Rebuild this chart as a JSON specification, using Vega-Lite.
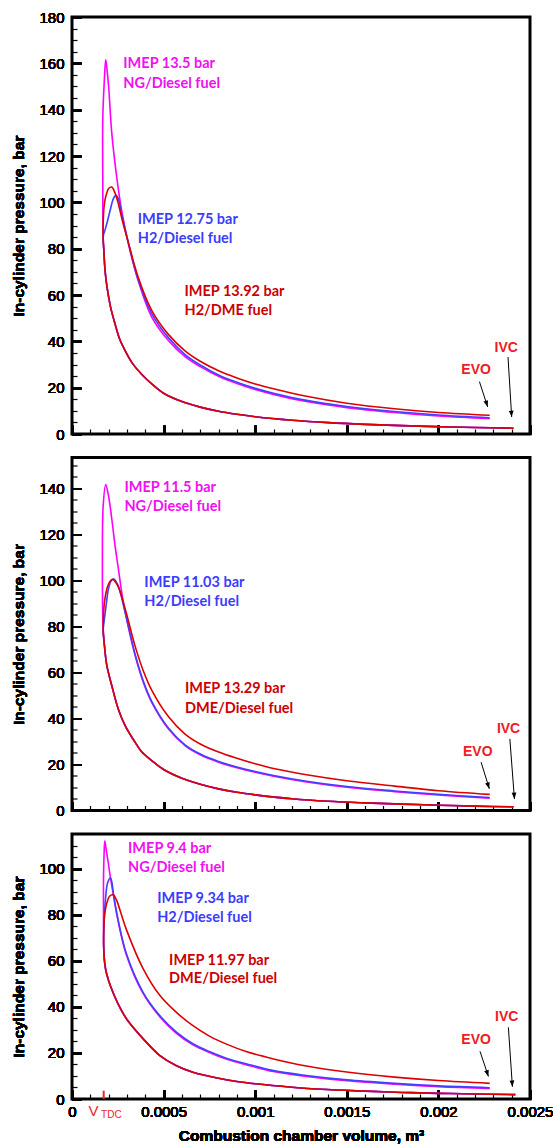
{
"$schema": "https://vega.github.io/schema/vega-lite/v6.json",
"padding": {"left": 10, "top": 8, "right": 2, "bottom": 2},
"background": "white",
"spacing": 23.5,
"bounds": "flush",
"config": {
  "view": {"stroke": "black", "strokeWidth": 3},
  "line": {"interpolate": "catmull-rom", "strokeWidth": 1.6},
  "axis": {"domain": false, "grid": false, "ticks": true, "tickColor": "black", "labelColor": "black", "titleColor": "black", "labelFont": "Liberation Sans", "labelFontSize": 15, "titleFont": "Liberation Sans", "titleFontSize": 15.5, "titleFontWeight": "bold", "labelOverlap": false, "labelFlush": false}
},
"datasets": {
"curves": [
{"k":1,"f":"NG","i":0,"v":0.00241,"p":2.5},{"k":1,"f":"NG","i":1,"v":0.0022,"p":2.8},{"k":1,"f":"NG","i":2,"v":0.002,"p":3.15},{"k":1,"f":"NG","i":3,"v":0.0018,"p":3.6},{"k":1,"f":"NG","i":4,"v":0.0016,"p":4.16},{"k":1,"f":"NG","i":5,"v":0.0014,"p":4.9},{"k":1,"f":"NG","i":6,"v":0.0012,"p":5.95},{"k":1,"f":"NG","i":7,"v":0.001,"p":7.45},{"k":1,"f":"NG","i":8,"v":0.0009,"p":8.5},{"k":1,"f":"NG","i":9,"v":0.0008,"p":9.8},{"k":1,"f":"NG","i":10,"v":0.0007,"p":11.6},{"k":1,"f":"NG","i":11,"v":0.0006,"p":14},{"k":1,"f":"NG","i":12,"v":0.0005,"p":17.6},{"k":1,"f":"NG","i":13,"v":0.00044,"p":21.3},{"k":1,"f":"NG","i":14,"v":0.00038,"p":25.8},{"k":1,"f":"NG","i":15,"v":0.00033,"p":30.5},{"k":1,"f":"NG","i":16,"v":0.00029,"p":36},{"k":1,"f":"NG","i":17,"v":0.00026,"p":41},{"k":1,"f":"NG","i":18,"v":0.000235,"p":47.5},{"k":1,"f":"NG","i":19,"v":0.00021,"p":55},{"k":1,"f":"NG","i":20,"v":0.00019,"p":64},{"k":1,"f":"NG","i":21,"v":0.00018,"p":71},{"k":1,"f":"NG","i":22,"v":0.000174,"p":79},{"k":1,"f":"NG","i":23,"v":0.00017,"p":85},
{"k":1,"f":"NG","i":24,"v":0.000168,"p":110},{"k":1,"f":"NG","i":25,"v":0.000168,"p":136},{"k":1,"f":"NG","i":26,"v":0.000176,"p":152},{"k":1,"f":"NG","i":27,"v":0.000184,"p":161.5},{"k":1,"f":"NG","i":28,"v":0.00019,"p":158},{"k":1,"f":"NG","i":29,"v":0.0002,"p":150},{"k":1,"f":"NG","i":30,"v":0.000217,"p":130},{"k":1,"f":"NG","i":31,"v":0.000244,"p":111},{"k":1,"f":"NG","i":32,"v":0.000271,"p":96.5},{"k":1,"f":"NG","i":33,"v":0.000308,"p":82},{"k":1,"f":"NG","i":34,"v":0.00036,"p":66.5},{"k":1,"f":"NG","i":35,"v":0.000435,"p":50.5},{"k":1,"f":"NG","i":36,"v":0.000526,"p":40.4},{"k":1,"f":"NG","i":37,"v":0.000617,"p":33.4},{"k":1,"f":"NG","i":38,"v":0.0007,"p":29.1},{"k":1,"f":"NG","i":39,"v":0.0008,"p":24.9},{"k":1,"f":"NG","i":40,"v":0.0009,"p":21.8},{"k":1,"f":"NG","i":41,"v":0.001,"p":19.2},{"k":1,"f":"NG","i":42,"v":0.0011,"p":17.1},{"k":1,"f":"NG","i":43,"v":0.00128,"p":14},{"k":1,"f":"NG","i":44,"v":0.0015,"p":11.4},{"k":1,"f":"NG","i":45,"v":0.00176,"p":9.3},{"k":1,"f":"NG","i":46,"v":0.002,"p":7.8},{"k":1,"f":"NG","i":47,"v":0.00228,"p":6.6},
{"k":1,"f":"H2","i":0,"v":0.00241,"p":2.5},{"k":1,"f":"H2","i":1,"v":0.0022,"p":2.8},{"k":1,"f":"H2","i":2,"v":0.002,"p":3.15},{"k":1,"f":"H2","i":3,"v":0.0018,"p":3.6},{"k":1,"f":"H2","i":4,"v":0.0016,"p":4.16},{"k":1,"f":"H2","i":5,"v":0.0014,"p":4.9},{"k":1,"f":"H2","i":6,"v":0.0012,"p":5.95},{"k":1,"f":"H2","i":7,"v":0.001,"p":7.45},{"k":1,"f":"H2","i":8,"v":0.0009,"p":8.5},{"k":1,"f":"H2","i":9,"v":0.0008,"p":9.8},{"k":1,"f":"H2","i":10,"v":0.0007,"p":11.6},{"k":1,"f":"H2","i":11,"v":0.0006,"p":14},{"k":1,"f":"H2","i":12,"v":0.0005,"p":17.6},{"k":1,"f":"H2","i":13,"v":0.00044,"p":21.3},{"k":1,"f":"H2","i":14,"v":0.00038,"p":25.8},{"k":1,"f":"H2","i":15,"v":0.00033,"p":30.5},{"k":1,"f":"H2","i":16,"v":0.00029,"p":36},{"k":1,"f":"H2","i":17,"v":0.00026,"p":41},{"k":1,"f":"H2","i":18,"v":0.000235,"p":47.5},{"k":1,"f":"H2","i":19,"v":0.00021,"p":55},{"k":1,"f":"H2","i":20,"v":0.00019,"p":64},{"k":1,"f":"H2","i":21,"v":0.00018,"p":71},{"k":1,"f":"H2","i":22,"v":0.000174,"p":79},{"k":1,"f":"H2","i":23,"v":0.00017,"p":84},
{"k":1,"f":"H2","i":24,"v":0.000172,"p":86},{"k":1,"f":"H2","i":25,"v":0.00018,"p":88},{"k":1,"f":"H2","i":26,"v":0.00019,"p":90.8},{"k":1,"f":"H2","i":27,"v":0.000208,"p":96.5},{"k":1,"f":"H2","i":28,"v":0.000226,"p":101.6},{"k":1,"f":"H2","i":29,"v":0.000239,"p":103},{"k":1,"f":"H2","i":30,"v":0.000253,"p":101.5},{"k":1,"f":"H2","i":31,"v":0.000271,"p":95},{"k":1,"f":"H2","i":32,"v":0.000308,"p":82.5},{"k":1,"f":"H2","i":33,"v":0.00036,"p":67},{"k":1,"f":"H2","i":34,"v":0.000435,"p":52},{"k":1,"f":"H2","i":35,"v":0.000526,"p":41.6},{"k":1,"f":"H2","i":36,"v":0.000617,"p":34.3},{"k":1,"f":"H2","i":37,"v":0.0007,"p":29.8},{"k":1,"f":"H2","i":38,"v":0.0008,"p":25.5},{"k":1,"f":"H2","i":39,"v":0.0009,"p":22.3},{"k":1,"f":"H2","i":40,"v":0.001,"p":19.7},{"k":1,"f":"H2","i":41,"v":0.0011,"p":17.6},{"k":1,"f":"H2","i":42,"v":0.00128,"p":14.5},{"k":1,"f":"H2","i":43,"v":0.0015,"p":11.9},{"k":1,"f":"H2","i":44,"v":0.00176,"p":9.7},{"k":1,"f":"H2","i":45,"v":0.002,"p":8.2},{"k":1,"f":"H2","i":46,"v":0.00228,"p":7.0},
{"k":1,"f":"DME","i":0,"v":0.00241,"p":2.5},{"k":1,"f":"DME","i":1,"v":0.0022,"p":2.8},{"k":1,"f":"DME","i":2,"v":0.002,"p":3.15},{"k":1,"f":"DME","i":3,"v":0.0018,"p":3.6},{"k":1,"f":"DME","i":4,"v":0.0016,"p":4.16},{"k":1,"f":"DME","i":5,"v":0.0014,"p":4.9},{"k":1,"f":"DME","i":6,"v":0.0012,"p":5.95},{"k":1,"f":"DME","i":7,"v":0.001,"p":7.45},{"k":1,"f":"DME","i":8,"v":0.0009,"p":8.5},{"k":1,"f":"DME","i":9,"v":0.0008,"p":9.8},{"k":1,"f":"DME","i":10,"v":0.0007,"p":11.6},{"k":1,"f":"DME","i":11,"v":0.0006,"p":14},{"k":1,"f":"DME","i":12,"v":0.0005,"p":17.6},{"k":1,"f":"DME","i":13,"v":0.00044,"p":21.3},{"k":1,"f":"DME","i":14,"v":0.00038,"p":25.8},{"k":1,"f":"DME","i":15,"v":0.00033,"p":30.5},{"k":1,"f":"DME","i":16,"v":0.00029,"p":36},{"k":1,"f":"DME","i":17,"v":0.00026,"p":41},{"k":1,"f":"DME","i":18,"v":0.000235,"p":47.5},{"k":1,"f":"DME","i":19,"v":0.00021,"p":55},{"k":1,"f":"DME","i":20,"v":0.00019,"p":64},{"k":1,"f":"DME","i":21,"v":0.00018,"p":71},{"k":1,"f":"DME","i":22,"v":0.000174,"p":79},{"k":1,"f":"DME","i":23,"v":0.00017,"p":85},
{"k":1,"f":"DME","i":24,"v":0.000172,"p":95},{"k":1,"f":"DME","i":25,"v":0.000178,"p":100},{"k":1,"f":"DME","i":26,"v":0.000186,"p":103},{"k":1,"f":"DME","i":27,"v":0.0002,"p":106},{"k":1,"f":"DME","i":28,"v":0.000217,"p":106.6},{"k":1,"f":"DME","i":29,"v":0.000235,"p":104},{"k":1,"f":"DME","i":30,"v":0.000253,"p":99.4},{"k":1,"f":"DME","i":31,"v":0.000275,"p":92},{"k":1,"f":"DME","i":32,"v":0.000308,"p":82.5},{"k":1,"f":"DME","i":33,"v":0.00036,"p":68},{"k":1,"f":"DME","i":34,"v":0.000435,"p":53.4},{"k":1,"f":"DME","i":35,"v":0.000526,"p":43},{"k":1,"f":"DME","i":36,"v":0.000617,"p":35.9},{"k":1,"f":"DME","i":37,"v":0.0007,"p":31.4},{"k":1,"f":"DME","i":38,"v":0.0008,"p":27.3},{"k":1,"f":"DME","i":39,"v":0.0009,"p":24.2},{"k":1,"f":"DME","i":40,"v":0.001,"p":21.6},{"k":1,"f":"DME","i":41,"v":0.0011,"p":19.5},{"k":1,"f":"DME","i":42,"v":0.00128,"p":16.3},{"k":1,"f":"DME","i":43,"v":0.0015,"p":13.3},{"k":1,"f":"DME","i":44,"v":0.00176,"p":10.9},{"k":1,"f":"DME","i":45,"v":0.002,"p":9.3},{"k":1,"f":"DME","i":46,"v":0.00228,"p":8.1},
{"k":2,"f":"NG","i":0,"v":0.00241,"p":1.6},{"k":2,"f":"NG","i":1,"v":0.0022,"p":1.9},{"k":2,"f":"NG","i":2,"v":0.002,"p":2.3},{"k":2,"f":"NG","i":3,"v":0.0018,"p":2.75},{"k":2,"f":"NG","i":4,"v":0.0016,"p":3.3},{"k":2,"f":"NG","i":5,"v":0.0014,"p":4.0},{"k":2,"f":"NG","i":6,"v":0.0012,"p":5.1},{"k":2,"f":"NG","i":7,"v":0.001,"p":6.8},{"k":2,"f":"NG","i":8,"v":0.0009,"p":7.9},{"k":2,"f":"NG","i":9,"v":0.0008,"p":9.4},{"k":2,"f":"NG","i":10,"v":0.0007,"p":11.4},{"k":2,"f":"NG","i":11,"v":0.0006,"p":14},{"k":2,"f":"NG","i":12,"v":0.0005,"p":17.8},{"k":2,"f":"NG","i":13,"v":0.000435,"p":21.7},{"k":2,"f":"NG","i":14,"v":0.00038,"p":25.5},{"k":2,"f":"NG","i":15,"v":0.000344,"p":29.7},{"k":2,"f":"NG","i":16,"v":0.00029,"p":36.9},{"k":2,"f":"NG","i":17,"v":0.000253,"p":44},{"k":2,"f":"NG","i":18,"v":0.000217,"p":54.3},{"k":2,"f":"NG","i":19,"v":0.00019,"p":63},{"k":2,"f":"NG","i":20,"v":0.000177,"p":71.7},{"k":2,"f":"NG","i":21,"v":0.00017,"p":79},
{"k":2,"f":"NG","i":22,"v":0.000166,"p":110},{"k":2,"f":"NG","i":23,"v":0.00017,"p":132},{"k":2,"f":"NG","i":24,"v":0.000184,"p":141.6},{"k":2,"f":"NG","i":25,"v":0.000199,"p":136.8},{"k":2,"f":"NG","i":26,"v":0.000217,"p":126.7},{"k":2,"f":"NG","i":27,"v":0.000235,"p":115},{"k":2,"f":"NG","i":28,"v":0.000253,"p":105},{"k":2,"f":"NG","i":29,"v":0.000271,"p":95},{"k":2,"f":"NG","i":30,"v":0.00029,"p":86.3},{"k":2,"f":"NG","i":31,"v":0.000344,"p":67.5},{"k":2,"f":"NG","i":32,"v":0.00039,"p":55.5},{"k":2,"f":"NG","i":33,"v":0.000435,"p":47},{"k":2,"f":"NG","i":34,"v":0.000526,"p":35.5},{"k":2,"f":"NG","i":35,"v":0.000617,"p":28.2},{"k":2,"f":"NG","i":36,"v":0.0007,"p":24.2},{"k":2,"f":"NG","i":37,"v":0.0008,"p":21},{"k":2,"f":"NG","i":38,"v":0.0009,"p":18.6},{"k":2,"f":"NG","i":39,"v":0.001,"p":16.6},{"k":2,"f":"NG","i":40,"v":0.0011,"p":14.9},{"k":2,"f":"NG","i":41,"v":0.00128,"p":12.4},{"k":2,"f":"NG","i":42,"v":0.0015,"p":10.1},{"k":2,"f":"NG","i":43,"v":0.00176,"p":8.2},{"k":2,"f":"NG","i":44,"v":0.002,"p":6.7},{"k":2,"f":"NG","i":45,"v":0.00228,"p":5.3},
{"k":2,"f":"H2","i":0,"v":0.00241,"p":1.6},{"k":2,"f":"H2","i":1,"v":0.0022,"p":1.9},{"k":2,"f":"H2","i":2,"v":0.002,"p":2.3},{"k":2,"f":"H2","i":3,"v":0.0018,"p":2.75},{"k":2,"f":"H2","i":4,"v":0.0016,"p":3.3},{"k":2,"f":"H2","i":5,"v":0.0014,"p":4.0},{"k":2,"f":"H2","i":6,"v":0.0012,"p":5.1},{"k":2,"f":"H2","i":7,"v":0.001,"p":6.8},{"k":2,"f":"H2","i":8,"v":0.0009,"p":7.9},{"k":2,"f":"H2","i":9,"v":0.0008,"p":9.4},{"k":2,"f":"H2","i":10,"v":0.0007,"p":11.4},{"k":2,"f":"H2","i":11,"v":0.0006,"p":14},{"k":2,"f":"H2","i":12,"v":0.0005,"p":17.8},{"k":2,"f":"H2","i":13,"v":0.000435,"p":21.7},{"k":2,"f":"H2","i":14,"v":0.00038,"p":25.5},{"k":2,"f":"H2","i":15,"v":0.000344,"p":29.7},{"k":2,"f":"H2","i":16,"v":0.00029,"p":36.9},{"k":2,"f":"H2","i":17,"v":0.000253,"p":44},{"k":2,"f":"H2","i":18,"v":0.000217,"p":54.3},{"k":2,"f":"H2","i":19,"v":0.00019,"p":63},{"k":2,"f":"H2","i":20,"v":0.000177,"p":71.7},{"k":2,"f":"H2","i":21,"v":0.00017,"p":78},
{"k":2,"f":"H2","i":22,"v":0.000172,"p":80},{"k":2,"f":"H2","i":23,"v":0.000184,"p":87.6},{"k":2,"f":"H2","i":24,"v":0.000199,"p":96.3},{"k":2,"f":"H2","i":25,"v":0.000212,"p":99.5},{"k":2,"f":"H2","i":26,"v":0.000226,"p":100.6},{"k":2,"f":"H2","i":27,"v":0.00025,"p":98},{"k":2,"f":"H2","i":28,"v":0.00029,"p":86},{"k":2,"f":"H2","i":29,"v":0.000344,"p":68},{"k":2,"f":"H2","i":30,"v":0.00039,"p":56},{"k":2,"f":"H2","i":31,"v":0.000435,"p":47.4},{"k":2,"f":"H2","i":32,"v":0.000526,"p":35.8},{"k":2,"f":"H2","i":33,"v":0.000617,"p":28.5},{"k":2,"f":"H2","i":34,"v":0.0007,"p":24.5},{"k":2,"f":"H2","i":35,"v":0.0008,"p":21.3},{"k":2,"f":"H2","i":36,"v":0.0009,"p":18.9},{"k":2,"f":"H2","i":37,"v":0.001,"p":16.9},{"k":2,"f":"H2","i":38,"v":0.0011,"p":15.2},{"k":2,"f":"H2","i":39,"v":0.00128,"p":12.7},{"k":2,"f":"H2","i":40,"v":0.0015,"p":10.4},{"k":2,"f":"H2","i":41,"v":0.00176,"p":8.5},{"k":2,"f":"H2","i":42,"v":0.002,"p":7.0},{"k":2,"f":"H2","i":43,"v":0.00228,"p":5.6},
{"k":2,"f":"DME","i":0,"v":0.00241,"p":1.6},{"k":2,"f":"DME","i":1,"v":0.0022,"p":1.9},{"k":2,"f":"DME","i":2,"v":0.002,"p":2.3},{"k":2,"f":"DME","i":3,"v":0.0018,"p":2.75},{"k":2,"f":"DME","i":4,"v":0.0016,"p":3.3},{"k":2,"f":"DME","i":5,"v":0.0014,"p":4.0},{"k":2,"f":"DME","i":6,"v":0.0012,"p":5.1},{"k":2,"f":"DME","i":7,"v":0.001,"p":6.8},{"k":2,"f":"DME","i":8,"v":0.0009,"p":7.9},{"k":2,"f":"DME","i":9,"v":0.0008,"p":9.4},{"k":2,"f":"DME","i":10,"v":0.0007,"p":11.4},{"k":2,"f":"DME","i":11,"v":0.0006,"p":14},{"k":2,"f":"DME","i":12,"v":0.0005,"p":17.8},{"k":2,"f":"DME","i":13,"v":0.000435,"p":21.7},{"k":2,"f":"DME","i":14,"v":0.00038,"p":25.5},{"k":2,"f":"DME","i":15,"v":0.000344,"p":29.7},{"k":2,"f":"DME","i":16,"v":0.00029,"p":36.9},{"k":2,"f":"DME","i":17,"v":0.000253,"p":44},{"k":2,"f":"DME","i":18,"v":0.000217,"p":54.3},{"k":2,"f":"DME","i":19,"v":0.00019,"p":63},{"k":2,"f":"DME","i":20,"v":0.000177,"p":71.7},{"k":2,"f":"DME","i":21,"v":0.00017,"p":79},
{"k":2,"f":"DME","i":22,"v":0.000172,"p":85},{"k":2,"f":"DME","i":23,"v":0.000178,"p":91},{"k":2,"f":"DME","i":24,"v":0.000195,"p":97.5},{"k":2,"f":"DME","i":25,"v":0.00021,"p":99.8},{"k":2,"f":"DME","i":26,"v":0.000222,"p":100.3},{"k":2,"f":"DME","i":27,"v":0.00025,"p":97.5},{"k":2,"f":"DME","i":28,"v":0.00029,"p":87.6},{"k":2,"f":"DME","i":29,"v":0.000344,"p":71.5},{"k":2,"f":"DME","i":30,"v":0.00039,"p":60.5},{"k":2,"f":"DME","i":31,"v":0.000435,"p":52.3},{"k":2,"f":"DME","i":32,"v":0.000526,"p":40.8},{"k":2,"f":"DME","i":33,"v":0.000617,"p":33.2},{"k":2,"f":"DME","i":34,"v":0.0007,"p":28.9},{"k":2,"f":"DME","i":35,"v":0.0008,"p":25.4},{"k":2,"f":"DME","i":36,"v":0.0009,"p":22.7},{"k":2,"f":"DME","i":37,"v":0.001,"p":20.3},{"k":2,"f":"DME","i":38,"v":0.0011,"p":18.2},{"k":2,"f":"DME","i":39,"v":0.00128,"p":15.5},{"k":2,"f":"DME","i":40,"v":0.0015,"p":12.9},{"k":2,"f":"DME","i":41,"v":0.00176,"p":10.6},{"k":2,"f":"DME","i":42,"v":0.002,"p":8.6},{"k":2,"f":"DME","i":43,"v":0.00228,"p":7.0},
{"k":3,"f":"NG","i":0,"v":0.00242,"p":1.9},{"k":3,"f":"NG","i":1,"v":0.0022,"p":2.2},{"k":3,"f":"NG","i":2,"v":0.002,"p":2.45},{"k":3,"f":"NG","i":3,"v":0.0018,"p":2.85},{"k":3,"f":"NG","i":4,"v":0.0016,"p":3.4},{"k":3,"f":"NG","i":5,"v":0.00136,"p":4.2},{"k":3,"f":"NG","i":6,"v":0.0012,"p":5.1},{"k":3,"f":"NG","i":7,"v":0.001,"p":6.6},{"k":3,"f":"NG","i":8,"v":0.0009,"p":7.6},{"k":3,"f":"NG","i":9,"v":0.0008,"p":9.0},{"k":3,"f":"NG","i":10,"v":0.00066,"p":11.6},{"k":3,"f":"NG","i":11,"v":0.00057,"p":14.4},{"k":3,"f":"NG","i":12,"v":0.00048,"p":18.8},{"k":3,"f":"NG","i":13,"v":0.00039,"p":26},{"k":3,"f":"NG","i":14,"v":0.0003,"p":34.5},{"k":3,"f":"NG","i":15,"v":0.00025,"p":41.5},{"k":3,"f":"NG","i":16,"v":0.00021,"p":49},{"k":3,"f":"NG","i":17,"v":0.00019,"p":54},{"k":3,"f":"NG","i":18,"v":0.00018,"p":58},{"k":3,"f":"NG","i":19,"v":0.000173,"p":66},
{"k":3,"f":"NG","i":20,"v":0.000172,"p":80},{"k":3,"f":"NG","i":21,"v":0.000172,"p":95},{"k":3,"f":"NG","i":22,"v":0.000175,"p":106},{"k":3,"f":"NG","i":23,"v":0.000179,"p":112},{"k":3,"f":"NG","i":24,"v":0.000187,"p":108},{"k":3,"f":"NG","i":25,"v":0.000197,"p":103},{"k":3,"f":"NG","i":26,"v":0.000212,"p":95},{"k":3,"f":"NG","i":27,"v":0.000225,"p":89},{"k":3,"f":"NG","i":28,"v":0.000251,"p":77.5},{"k":3,"f":"NG","i":29,"v":0.000297,"p":62.5},{"k":3,"f":"NG","i":30,"v":0.000388,"p":45.8},{"k":3,"f":"NG","i":31,"v":0.000479,"p":35.7},{"k":3,"f":"NG","i":32,"v":0.00057,"p":28.5},{"k":3,"f":"NG","i":33,"v":0.00066,"p":23.5},{"k":3,"f":"NG","i":34,"v":0.00075,"p":20.2},{"k":3,"f":"NG","i":35,"v":0.00085,"p":17.1},{"k":3,"f":"NG","i":36,"v":0.00095,"p":14.9},{"k":3,"f":"NG","i":37,"v":0.0011,"p":11.9},{"k":3,"f":"NG","i":38,"v":0.00128,"p":9.8},{"k":3,"f":"NG","i":39,"v":0.0015,"p":7.9},{"k":3,"f":"NG","i":40,"v":0.00176,"p":6.4},{"k":3,"f":"NG","i":41,"v":0.002,"p":5.3},{"k":3,"f":"NG","i":42,"v":0.00228,"p":4.5},
{"k":3,"f":"H2","i":0,"v":0.00242,"p":1.9},{"k":3,"f":"H2","i":1,"v":0.0022,"p":2.2},{"k":3,"f":"H2","i":2,"v":0.002,"p":2.45},{"k":3,"f":"H2","i":3,"v":0.0018,"p":2.85},{"k":3,"f":"H2","i":4,"v":0.0016,"p":3.4},{"k":3,"f":"H2","i":5,"v":0.00136,"p":4.2},{"k":3,"f":"H2","i":6,"v":0.0012,"p":5.1},{"k":3,"f":"H2","i":7,"v":0.001,"p":6.6},{"k":3,"f":"H2","i":8,"v":0.0009,"p":7.6},{"k":3,"f":"H2","i":9,"v":0.0008,"p":9.0},{"k":3,"f":"H2","i":10,"v":0.00066,"p":11.6},{"k":3,"f":"H2","i":11,"v":0.00057,"p":14.4},{"k":3,"f":"H2","i":12,"v":0.00048,"p":18.8},{"k":3,"f":"H2","i":13,"v":0.00039,"p":26},{"k":3,"f":"H2","i":14,"v":0.0003,"p":34.5},{"k":3,"f":"H2","i":15,"v":0.00025,"p":41.5},{"k":3,"f":"H2","i":16,"v":0.00021,"p":49},{"k":3,"f":"H2","i":17,"v":0.00019,"p":54},{"k":3,"f":"H2","i":18,"v":0.00018,"p":58},{"k":3,"f":"H2","i":19,"v":0.000173,"p":66},
{"k":3,"f":"H2","i":20,"v":0.000173,"p":70},{"k":3,"f":"H2","i":21,"v":0.000176,"p":78},{"k":3,"f":"H2","i":22,"v":0.000183,"p":87},{"k":3,"f":"H2","i":23,"v":0.000195,"p":94},{"k":3,"f":"H2","i":24,"v":0.00021,"p":95.9},{"k":3,"f":"H2","i":25,"v":0.000218,"p":94},{"k":3,"f":"H2","i":26,"v":0.000225,"p":89.6},{"k":3,"f":"H2","i":27,"v":0.000251,"p":78},{"k":3,"f":"H2","i":28,"v":0.000297,"p":63},{"k":3,"f":"H2","i":29,"v":0.000388,"p":46.3},{"k":3,"f":"H2","i":30,"v":0.000479,"p":36.2},{"k":3,"f":"H2","i":31,"v":0.00057,"p":29},{"k":3,"f":"H2","i":32,"v":0.00066,"p":24},{"k":3,"f":"H2","i":33,"v":0.00075,"p":20.6},{"k":3,"f":"H2","i":34,"v":0.00085,"p":17.5},{"k":3,"f":"H2","i":35,"v":0.00095,"p":15.3},{"k":3,"f":"H2","i":36,"v":0.0011,"p":12.3},{"k":3,"f":"H2","i":37,"v":0.00128,"p":10.2},{"k":3,"f":"H2","i":38,"v":0.0015,"p":8.3},{"k":3,"f":"H2","i":39,"v":0.00176,"p":6.8},{"k":3,"f":"H2","i":40,"v":0.002,"p":5.7},{"k":3,"f":"H2","i":41,"v":0.00228,"p":4.9},
{"k":3,"f":"DME","i":0,"v":0.00242,"p":1.9},{"k":3,"f":"DME","i":1,"v":0.0022,"p":2.2},{"k":3,"f":"DME","i":2,"v":0.002,"p":2.45},{"k":3,"f":"DME","i":3,"v":0.0018,"p":2.85},{"k":3,"f":"DME","i":4,"v":0.0016,"p":3.4},{"k":3,"f":"DME","i":5,"v":0.00136,"p":4.2},{"k":3,"f":"DME","i":6,"v":0.0012,"p":5.1},{"k":3,"f":"DME","i":7,"v":0.001,"p":6.6},{"k":3,"f":"DME","i":8,"v":0.0009,"p":7.6},{"k":3,"f":"DME","i":9,"v":0.0008,"p":9.0},{"k":3,"f":"DME","i":10,"v":0.00066,"p":11.6},{"k":3,"f":"DME","i":11,"v":0.00057,"p":14.4},{"k":3,"f":"DME","i":12,"v":0.00048,"p":18.8},{"k":3,"f":"DME","i":13,"v":0.00039,"p":26},{"k":3,"f":"DME","i":14,"v":0.0003,"p":34.5},{"k":3,"f":"DME","i":15,"v":0.00025,"p":41.5},{"k":3,"f":"DME","i":16,"v":0.00021,"p":49},{"k":3,"f":"DME","i":17,"v":0.00019,"p":54},{"k":3,"f":"DME","i":18,"v":0.00018,"p":58},{"k":3,"f":"DME","i":19,"v":0.000173,"p":66},
{"k":3,"f":"DME","i":20,"v":0.000174,"p":75},{"k":3,"f":"DME","i":21,"v":0.000178,"p":80},{"k":3,"f":"DME","i":22,"v":0.00019,"p":85},{"k":3,"f":"DME","i":23,"v":0.000205,"p":88},{"k":3,"f":"DME","i":24,"v":0.000224,"p":88.6},{"k":3,"f":"DME","i":25,"v":0.000245,"p":86},{"k":3,"f":"DME","i":26,"v":0.00026,"p":82.4},{"k":3,"f":"DME","i":27,"v":0.000297,"p":73.5},{"k":3,"f":"DME","i":28,"v":0.000388,"p":56.6},{"k":3,"f":"DME","i":29,"v":0.000479,"p":45},{"k":3,"f":"DME","i":30,"v":0.00057,"p":37.6},{"k":3,"f":"DME","i":31,"v":0.00066,"p":31.8},{"k":3,"f":"DME","i":32,"v":0.00075,"p":27.3},{"k":3,"f":"DME","i":33,"v":0.00085,"p":23.6},{"k":3,"f":"DME","i":34,"v":0.00095,"p":20.6},{"k":3,"f":"DME","i":35,"v":0.0011,"p":17.4},{"k":3,"f":"DME","i":36,"v":0.00128,"p":14.3},{"k":3,"f":"DME","i":37,"v":0.0015,"p":11.7},{"k":3,"f":"DME","i":38,"v":0.00176,"p":9.5},{"k":3,"f":"DME","i":39,"v":0.002,"p":8.0},{"k":3,"f":"DME","i":40,"v":0.00228,"p":6.8}
],
"labels": [
{"k":1,"f":"NG","t":"IMEP 13.5 bar","v":0.00028,"p":159.7},{"k":1,"f":"NG","t":"NG/Diesel fuel","v":0.00028,"p":151.2},
{"k":1,"f":"H2","t":"IMEP 12.75 bar","v":0.000359,"p":92.2},{"k":1,"f":"H2","t":"H2/Diesel fuel","v":0.000359,"p":84.3},
{"k":1,"f":"DME","t":"IMEP 13.92 bar","v":0.000614,"p":61.3},{"k":1,"f":"DME","t":"H2/DME fuel","v":0.000614,"p":53.1},
{"k":2,"f":"NG","t":"IMEP 11.5 bar","v":0.000286,"p":140},{"k":2,"f":"NG","t":"NG/Diesel fuel","v":0.000286,"p":131.8},
{"k":2,"f":"H2","t":"IMEP 11.03 bar","v":0.000395,"p":98.9},{"k":2,"f":"H2","t":"H2/Diesel fuel","v":0.000395,"p":90.5},
{"k":2,"f":"DME","t":"IMEP 13.29 bar","v":0.000617,"p":52.6},{"k":2,"f":"DME","t":"DME/Diesel fuel","v":0.000617,"p":44.1},
{"k":3,"f":"NG","t":"IMEP 9.4 bar","v":0.000306,"p":108.7},{"k":3,"f":"NG","t":"NG/Diesel fuel","v":0.000306,"p":100.3},
{"k":3,"f":"H2","t":"IMEP 9.34 bar","v":0.000465,"p":87},{"k":3,"f":"H2","t":"H2/Diesel fuel","v":0.000465,"p":78.5},
{"k":3,"f":"DME","t":"IMEP 11.97 bar","v":0.00053,"p":60},{"k":3,"f":"DME","t":"DME/Diesel fuel","v":0.00053,"p":52.1}
],
"events": [
{"k":1,"t":"EVO","v":0.002206,"p":27.6},{"k":1,"t":"IVC","v":0.00237,"p":37.2},
{"k":2,"t":"EVO","v":0.002215,"p":25.6},{"k":2,"t":"IVC","v":0.002383,"p":35.4},
{"k":3,"t":"EVO","v":0.002206,"p":25.7},{"k":3,"t":"IVC","v":0.002373,"p":35.7}
],
"arrows": [
{"k":1,"e":"EVO","v":0.002269,"p":11.7,"v2":0.002224,"p2":22.6},{"k":1,"e":"IVC","v":0.0024,"p":7.3,"v2":0.00238,"p2":33.2},
{"k":2,"e":"EVO","v":0.002278,"p":9.4,"v2":0.002233,"p2":21},{"k":2,"e":"IVC","v":0.002415,"p":5.0,"v2":0.00239,"p2":31.1},
{"k":3,"e":"EVO","v":0.002273,"p":9.8,"v2":0.002227,"p2":20.7},{"k":3,"e":"IVC","v":0.002404,"p":5.3,"v2":0.002382,"p2":31.1}
],
"tdcTick": [{"v":0.000173,"p":0,"p2":3.6}],
"tdcText": [{"t":"V","v":0.000117,"p":-5.1},{"t":"TDC","v":0.000215,"p":-6.9}]
},
"vconcat": [
{
 "width": 458, "height": 417,
 "resolve": {"axis": {"x": "independent", "y": "independent"}},
 "encoding": {
  "x": {"field":"v","type":"quantitative","scale":{"domain":[0,0.0025],"nice":false,"zero":false},
   "axis":{"orient":"bottom","values":[0,0.0005,0.001,0.0015,0.002,0.0025],"labels":false,"title":null,"tickSize":-9,"tickWidth":2}},
  "y": {"field":"p","type":"quantitative","scale":{"domain":[0,180],"nice":false},
   "axis":{"orient":"left","values":[0,20,40,60,80,100,120,140,160,180],"labelPadding":17,
    "title":"In-cylinder pressure, bar","titlePadding":12,"tickSize":-9,"tickWidth":2}}
 },
 "layer": [
  {"data":{"name":"curves"},"transform":[{"filter":"datum.k===1 && datum.f==='NG'"}],"mark":{"type":"line","color":"#FF00FF"},"encoding":{"order":{"field":"i","type":"quantitative"}}},
  {"data":{"name":"curves"},"transform":[{"filter":"datum.k===1 && datum.f==='H2'"}],"mark":{"type":"line","color":"#4040FF"},"encoding":{"order":{"field":"i","type":"quantitative"}}},
  {"data":{"name":"curves"},"transform":[{"filter":"datum.k===1 && datum.f==='DME'"}],"mark":{"type":"line","color":"#DD0000"},"encoding":{"order":{"field":"i","type":"quantitative"}}},
  {"data":{"name":"labels"},"transform":[{"filter":"datum.k===1"}],"mark":{"type":"text","align":"left","baseline":"middle","font":"Lato","fontWeight":"bold","fontSize":14.5},
   "encoding":{"text":{"field":"t"},"color":{"field":"f","type":"nominal","scale":{"domain":["NG","H2","DME"],"range":["#F010F0","#3C3CFF","#CC0000"]},"legend":null}}},
  {"data":{"name":"arrows"},"transform":[{"filter":"datum.k===1"}],"mark":{"type":"rule","color":"black","strokeWidth":1},
   "encoding":{"x":{"field":"v","type":"quantitative","axis":{"orient":"bottom","values":[0.0001,0.0002,0.0003,0.0004,0.0006,0.0007,0.0008,0.0009,0.0011,0.0012,0.0013,0.0014,0.0016,0.0017,0.0018,0.0019,0.0021,0.0022,0.0023,0.0024],"labels":false,"title":null,"tickSize":-5,"tickWidth":1.2}},
    "y":{"field":"p","type":"quantitative","axis":{"orient":"left","values":[5,10,15,25,30,35,45,50,55,65,70,75,85,90,95,105,110,115,125,130,135,145,150,155,165,170,175],"labels":false,"title":null,"tickSize":-5,"tickWidth":1.2}},
    "x2":{"field":"v2"},"y2":{"field":"p2"}}},
  {"data":{"name":"arrows"},"transform":[{"filter":"datum.k===1 && datum.e==='EVO'"}],"mark":{"type":"point","shape":"M-0.75,-2L0.75,-2L0,0Z","filled":true,"color":"black","opacity":1,"size":40,"angle":342},"encoding":{}},
  {"data":{"name":"arrows"},"transform":[{"filter":"datum.k===1 && datum.e==='IVC'"}],"mark":{"type":"point","shape":"M-0.75,-2L0.75,-2L0,0Z","filled":true,"color":"black","opacity":1,"size":40,"angle":356},"encoding":{}},
  {"data":{"name":"events"},"transform":[{"filter":"datum.k===1"}],"mark":{"type":"text","align":"center","baseline":"middle","font":"Liberation Sans","fontWeight":"bold","fontSize":14,"color":"#EE1C24"},"encoding":{"text":{"field":"t"}}}
 ]
},
{
 "width": 458, "height": 353,
 "resolve": {"axis": {"x": "independent", "y": "independent"}},
 "encoding": {
  "x": {"field":"v","type":"quantitative","scale":{"domain":[0,0.0025],"nice":false,"zero":false},
   "axis":{"orient":"bottom","values":[0,0.0005,0.001,0.0015,0.002,0.0025],"labels":false,"title":null,"tickSize":-9,"tickWidth":2}},
  "y": {"field":"p","type":"quantitative","scale":{"domain":[0,153.3],"nice":false},
   "axis":{"orient":"left","values":[0,20,40,60,80,100,120,140],"labelPadding":17,
    "title":"In-cylinder pressure, bar","titlePadding":12,"tickSize":-9,"tickWidth":2}}
 },
 "layer": [
  {"data":{"name":"curves"},"transform":[{"filter":"datum.k===2 && datum.f==='NG'"}],"mark":{"type":"line","color":"#FF00FF"},"encoding":{"order":{"field":"i","type":"quantitative"}}},
  {"data":{"name":"curves"},"transform":[{"filter":"datum.k===2 && datum.f==='H2'"}],"mark":{"type":"line","color":"#4040FF"},"encoding":{"order":{"field":"i","type":"quantitative"}}},
  {"data":{"name":"curves"},"transform":[{"filter":"datum.k===2 && datum.f==='DME'"}],"mark":{"type":"line","color":"#DD0000"},"encoding":{"order":{"field":"i","type":"quantitative"}}},
  {"data":{"name":"labels"},"transform":[{"filter":"datum.k===2"}],"mark":{"type":"text","align":"left","baseline":"middle","font":"Lato","fontWeight":"bold","fontSize":14.5},
   "encoding":{"text":{"field":"t"},"color":{"field":"f","type":"nominal","scale":{"domain":["NG","H2","DME"],"range":["#F010F0","#3C3CFF","#CC0000"]},"legend":null}}},
  {"data":{"name":"arrows"},"transform":[{"filter":"datum.k===2"}],"mark":{"type":"rule","color":"black","strokeWidth":1},
   "encoding":{"x":{"field":"v","type":"quantitative","axis":{"orient":"bottom","values":[0.0001,0.0002,0.0003,0.0004,0.0006,0.0007,0.0008,0.0009,0.0011,0.0012,0.0013,0.0014,0.0016,0.0017,0.0018,0.0019,0.0021,0.0022,0.0023,0.0024],"labels":false,"title":null,"tickSize":-5,"tickWidth":1.2}},
    "y":{"field":"p","type":"quantitative","axis":{"orient":"left","values":[5,10,15,25,30,35,45,50,55,65,70,75,85,90,95,105,110,115,125,130,135,145,150],"labels":false,"title":null,"tickSize":-5,"tickWidth":1.2}},
    "x2":{"field":"v2"},"y2":{"field":"p2"}}},
  {"data":{"name":"arrows"},"transform":[{"filter":"datum.k===2 && datum.e==='EVO'"}],"mark":{"type":"point","shape":"M-0.75,-2L0.75,-2L0,0Z","filled":true,"color":"black","opacity":1,"size":40,"angle":342},"encoding":{}},
  {"data":{"name":"arrows"},"transform":[{"filter":"datum.k===2 && datum.e==='IVC'"}],"mark":{"type":"point","shape":"M-0.75,-2L0.75,-2L0,0Z","filled":true,"color":"black","opacity":1,"size":40,"angle":356},"encoding":{}},
  {"data":{"name":"events"},"transform":[{"filter":"datum.k===2"}],"mark":{"type":"text","align":"center","baseline":"middle","font":"Liberation Sans","fontWeight":"bold","fontSize":14,"color":"#EE1C24"},"encoding":{"text":{"field":"t"}}}
 ]
},
{
 "width": 458, "height": 265,
 "resolve": {"axis": {"x": "independent", "y": "independent"}},
 "encoding": {
  "x": {"field":"v","type":"quantitative","scale":{"domain":[0,0.0025],"nice":false,"zero":false},
   "axis":{"orient":"bottom","values":[0,0.0005,0.001,0.0015,0.002,0.0025],"format":"~g","labelPadding":14,
    "title":"Combustion chamber volume, m³","titlePadding":9,"tickSize":-9,"tickWidth":2}},
  "y": {"field":"p","type":"quantitative","scale":{"domain":[0,115],"nice":false},
   "axis":{"orient":"left","values":[0,20,40,60,80,100],"labelPadding":17,
    "title":"In-cylinder pressure, bar","titlePadding":12,"tickSize":-9,"tickWidth":2}}
 },
 "layer": [
  {"data":{"name":"curves"},"transform":[{"filter":"datum.k===3 && datum.f==='NG'"}],"mark":{"type":"line","color":"#FF00FF"},"encoding":{"order":{"field":"i","type":"quantitative"}}},
  {"data":{"name":"curves"},"transform":[{"filter":"datum.k===3 && datum.f==='H2'"}],"mark":{"type":"line","color":"#4040FF"},"encoding":{"order":{"field":"i","type":"quantitative"}}},
  {"data":{"name":"curves"},"transform":[{"filter":"datum.k===3 && datum.f==='DME'"}],"mark":{"type":"line","color":"#DD0000"},"encoding":{"order":{"field":"i","type":"quantitative"}}},
  {"data":{"name":"labels"},"transform":[{"filter":"datum.k===3"}],"mark":{"type":"text","align":"left","baseline":"middle","font":"Lato","fontWeight":"bold","fontSize":14.5},
   "encoding":{"text":{"field":"t"},"color":{"field":"f","type":"nominal","scale":{"domain":["NG","H2","DME"],"range":["#F010F0","#3C3CFF","#CC0000"]},"legend":null}}},
  {"data":{"name":"arrows"},"transform":[{"filter":"datum.k===3"}],"mark":{"type":"rule","color":"black","strokeWidth":1},
   "encoding":{"x":{"field":"v","type":"quantitative","axis":{"orient":"bottom","values":[0.0001,0.0002,0.0003,0.0004,0.0006,0.0007,0.0008,0.0009,0.0011,0.0012,0.0013,0.0014,0.0016,0.0017,0.0018,0.0019,0.0021,0.0022,0.0023,0.0024],"labels":false,"title":null,"tickSize":-5,"tickWidth":1.2}},
    "y":{"field":"p","type":"quantitative","axis":{"orient":"left","values":[5,10,15,25,30,35,45,50,55,65,70,75,85,90,95,105,110],"labels":false,"title":null,"tickSize":-5,"tickWidth":1.2}},
    "x2":{"field":"v2"},"y2":{"field":"p2"}}},
  {"data":{"name":"arrows"},"transform":[{"filter":"datum.k===3 && datum.e==='EVO'"}],"mark":{"type":"point","shape":"M-0.75,-2L0.75,-2L0,0Z","filled":true,"color":"black","opacity":1,"size":40,"angle":342},"encoding":{}},
  {"data":{"name":"arrows"},"transform":[{"filter":"datum.k===3 && datum.e==='IVC'"}],"mark":{"type":"point","shape":"M-0.75,-2L0.75,-2L0,0Z","filled":true,"color":"black","opacity":1,"size":40,"angle":356},"encoding":{}},
  {"data":{"name":"events"},"transform":[{"filter":"datum.k===3"}],"mark":{"type":"text","align":"center","baseline":"middle","font":"Liberation Sans","fontWeight":"bold","fontSize":14,"color":"#EE1C24"},"encoding":{"text":{"field":"t"}}},
  {"data":{"name":"tdcTick"},"mark":{"type":"rule","color":"#E8262B","strokeWidth":2},"encoding":{"y2":{"field":"p2"}}},
  {"data":{"name":"tdcText"},"transform":[{"filter":"datum.t==='V'"}],"mark":{"type":"text","align":"center","baseline":"middle","font":"Liberation Sans","fontSize":15,"color":"#E8262B"},"encoding":{"text":{"field":"t"}}},
  {"data":{"name":"tdcText"},"transform":[{"filter":"datum.t==='TDC'"}],"mark":{"type":"text","align":"center","baseline":"middle","font":"Liberation Sans","fontSize":10,"color":"#E8262B"},"encoding":{"text":{"field":"t"}}}
 ]
}
]
}
